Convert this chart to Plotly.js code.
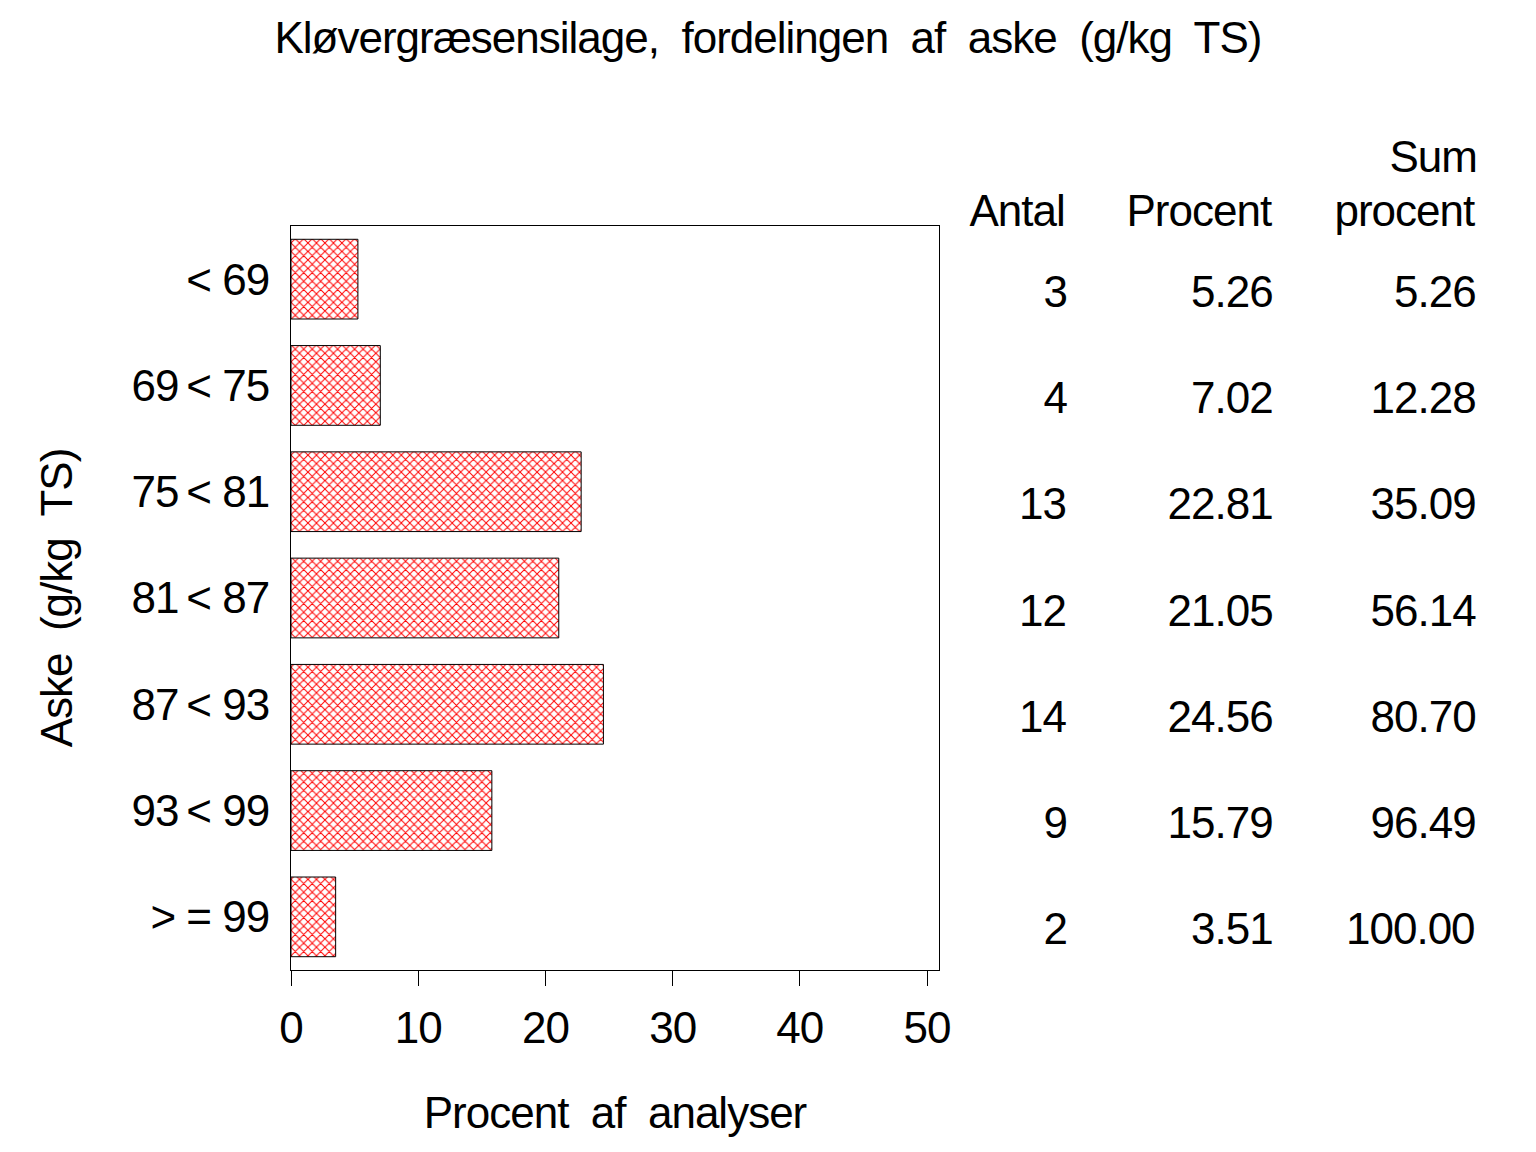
<!DOCTYPE html>
<html>
<head>
<meta charset="utf-8">
<script src="https://cdn.plot.ly/plotly-3.0.1.min.js"></script>
<style>
  body { margin: 0; background: #fff; }
  #chart { width: 1536px; height: 1152px; }
  #chart text { letter-spacing: -1px; }
</style>
</head>
<body>
<div id="chart"></div>
<script>
// klasser (aske g/kg TS), antal analyser, procent og kumuleret procent
const categories = ['< 69', '69\u2009< 75', '75\u2009< 81', '81\u2009< 87', '87\u2009< 93', '93\u2009< 99', '> = 99'];
const antal = [3, 4, 13, 12, 14, 9, 2];
const procent = [5.26, 7.02, 22.81, 21.05, 24.56, 15.79, 3.51];
const sumProcent = [5.26, 12.28, 35.09, 56.14, 80.70, 96.49, 100.00];
const xTicks = [0, 10, 20, 30, 40, 50];

const FONT = 'Liberation Sans, Arial, sans-serif';
const FS = 44;

const trace = {
  type: 'bar',
  orientation: 'h',
  x: procent,
  y: categories,
  width: 0.75,
  marker: {
    color: 'white',
    line: { color: 'black', width: 1 },
    pattern: { shape: 'x', fgcolor: 'red', bgcolor: 'white', size: 6, solidity: 0.3 }
  },
  hoverinfo: 'x+y'
};

// tabel til højre: kolonne-positioner i paper-koordinater
const colX = [1.2, 1.5216, 1.8346];
const annotations = [];
const head = (text, x, y) => ({
  text: text, xref: 'paper', yref: 'paper', x: x, y: y,
  xanchor: 'right', yanchor: 'middle', showarrow: false,
  font: { family: FONT, size: FS, color: 'black' }
});
annotations.push(head('Antal', colX[0], 1.0215));
annotations.push(head('Procent', colX[1], 1.0215));
annotations.push(head('Sum', colX[2], 1.093));
annotations.push(head('procent', colX[2], 1.0215));

categories.forEach((c, i) => {
  const cols = [String(antal[i]), procent[i].toFixed(2), sumProcent[i].toFixed(2)];
  cols.forEach((t, j) => {
    annotations.push({
      text: t, xref: 'paper', yref: 'y', x: colX[j], y: c,
      xanchor: 'right', yanchor: 'middle', yshift: -12, showarrow: false,
      font: { family: FONT, size: FS, color: 'black' }
    });
  });
});

const layout = {
  width: 1536,
  height: 1152,
  paper_bgcolor: 'white',
  plot_bgcolor: 'white',
  font: { family: FONT, size: FS, color: 'black' },
  showlegend: false,
  margin: { l: 291, r: 597, t: 226, b: 182 },
  title: {
    text: 'Kløvergræsensilage,\u00a0 fordelingen\u00a0 af\u00a0 aske\u00a0 (g/kg\u00a0 TS)',
    xref: 'container', x: 0.5, xanchor: 'center',
    yref: 'container', y: 0.967, yanchor: 'middle',
    font: { family: FONT, size: FS, color: 'black' }
  },
  xaxis: {
    range: [0, 50.94],
    tickvals: xTicks,
    ticks: 'outside', ticklen: 15, tickwidth: 1, tickcolor: 'black',
    ticklabelstandoff: 4,
    showline: true, linecolor: 'black', linewidth: 1, mirror: true,
    showgrid: false, zeroline: false,
    tickfont: { family: FONT, size: FS },
    title: { text: 'Procent\u00a0 af\u00a0 analyser', font: { family: FONT, size: FS }, standoff: 46 }
  },
  yaxis: {
    type: 'category',
    range: [6.5, -0.5],
    ticks: '',
    ticklabelstandoff: 12,
    showline: true, linecolor: 'black', linewidth: 1, mirror: true,
    showgrid: false, zeroline: false,
    tickfont: { family: FONT, size: FS },
    title: { text: 'Aske\u00a0 (g/kg\u00a0 TS)', font: { family: FONT, size: FS }, standoff: 38 }
  },
  annotations: annotations
};

Plotly.newPlot('chart', [trace], layout, { staticPlot: true });
</script>
</body>
</html>
